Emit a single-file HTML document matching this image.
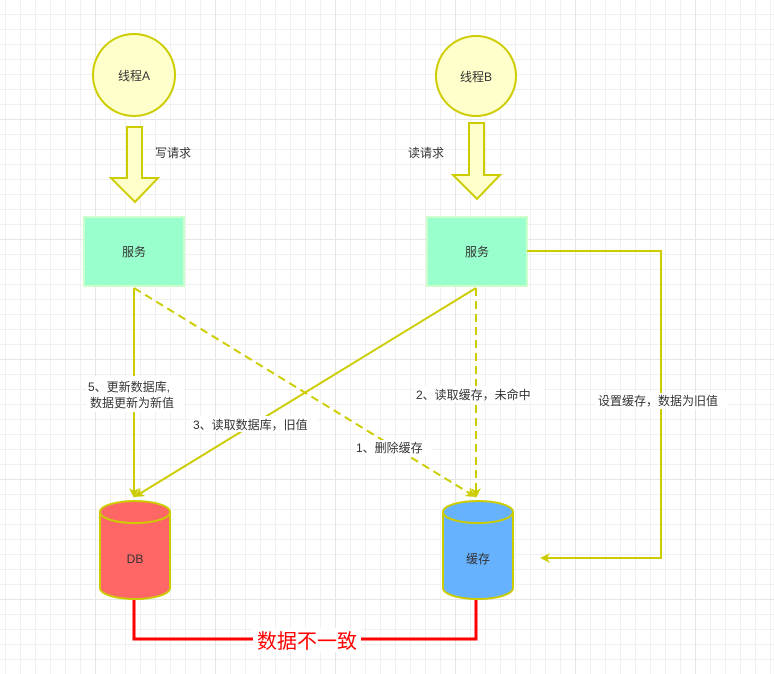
<!DOCTYPE html>
<html><head><meta charset="utf-8"><style>
body{margin:0;width:774px;height:674px;overflow:hidden;background:#fff;
background-image:linear-gradient(#e6e6e6 1px,transparent 1px),linear-gradient(90deg,#e6e6e6 1px,transparent 1px),linear-gradient(#f0f0f0 1px,transparent 1px),linear-gradient(90deg,#f0f0f0 1px,transparent 1px);
background-size:120px 120px,120px 120px,15px 15px,15px 15px;background-position:0 -1px,-25px 0,0 -1px,5px 0;}
svg{position:absolute;left:0;top:0}
text{font-family:"Liberation Sans","Noto Sans CJK SC",sans-serif;font-size:12px;fill:#333}
</style></head><body>
<svg width="774" height="674">
<defs><marker id="a" markerWidth="10" markerHeight="10" refX="8" refY="5" orient="auto" markerUnits="userSpaceOnUse"><path d="M0,0 L10,5 L0,10 L3,5z" fill="#cccc00"/></marker></defs>
<circle cx="134" cy="75" r="41" fill="#ffffcc" stroke="#cccc00" stroke-width="2"/>
<circle cx="476" cy="76" r="40" fill="#ffffcc" stroke="#cccc00" stroke-width="2"/>
<text x="134" y="80" text-anchor="middle">线程A</text>
<text x="476" y="81" text-anchor="middle">线程B</text>
<path d="M127,127 H142 V178 H158 L135,202 L111,178 H127Z" fill="#ffffcc" stroke="#cccc00" stroke-width="2"/>
<path d="M469,123 H484 V175 H500 L477,199 L453,175 H469Z" fill="#ffffcc" stroke="#cccc00" stroke-width="2"/>
<text x="155" y="157">写请求</text>
<text x="408" y="157">读请求</text>
<rect x="84" y="217" width="100" height="69" fill="#99ffcc" stroke="#ccffcc" stroke-width="2"/>
<rect x="427" y="217" width="100" height="69" fill="#99ffcc" stroke="#ccffcc" stroke-width="2"/>
<text x="134" y="256" text-anchor="middle">服务</text>
<text x="477" y="256" text-anchor="middle">服务</text>
<g stroke="#cccc00" stroke-width="2" fill="none">
<path d="M134,288 V496" marker-end="url(#a)"/>
<path d="M134,288 L474,496" stroke-dasharray="8,5" marker-end="url(#a)"/>
<path d="M476,288 L136,496" marker-end="url(#a)"/>
<path d="M476,288 V496" stroke-dasharray="8,5" marker-end="url(#a)"/>
<path d="M527,251 H661 V558 H542" marker-end="url(#a)"/>
</g>
<g>
<rect x="86" y="376" width="98" height="36" fill="#fff"/>
<text x="88" y="391">5、更新数据库,</text><text x="90" y="407">数据更新为新值</text>
<rect x="190" y="416" width="128" height="16" fill="#fff"/>
<text x="193" y="429">3、读取数据库，旧值</text>
<rect x="415" y="386" width="128" height="16" fill="#fff"/>
<text x="416" y="399">2、读取缓存，未命中</text>
<rect x="355" y="440" width="76" height="16" fill="#fff"/>
<text x="356" y="452">1、删除缓存</text>
<rect x="596" y="393" width="132" height="16" fill="#fff"/>
<text x="598" y="405">设置缓存，数据为旧值</text>
</g>
<path d="M100,512 V588 A35,11 0 0 0 170,588 V512" fill="#ff6666" stroke="#cccc00" stroke-width="2"/>
<ellipse cx="135" cy="512" rx="35" ry="11" fill="#ff6666" stroke="#cccc00" stroke-width="2"/>
<path d="M443,512 V588 A35,11 0 0 0 513,588 V512" fill="#66b2ff" stroke="#cccc00" stroke-width="2"/>
<ellipse cx="478" cy="512" rx="35" ry="11" fill="#66b2ff" stroke="#cccc00" stroke-width="2"/>
<text x="135" y="563" text-anchor="middle">DB</text>
<text x="478" y="563" text-anchor="middle">缓存</text>
<path d="M134,600 V639 H476 V600" fill="none" stroke="#ff0000" stroke-width="3"/>
<rect x="253" y="628" width="108" height="24" fill="#fff"/>
<text x="307" y="648" text-anchor="middle" style="font-size:20px;fill:#ff0000">数据不一致</text>
</svg>
</body></html>
